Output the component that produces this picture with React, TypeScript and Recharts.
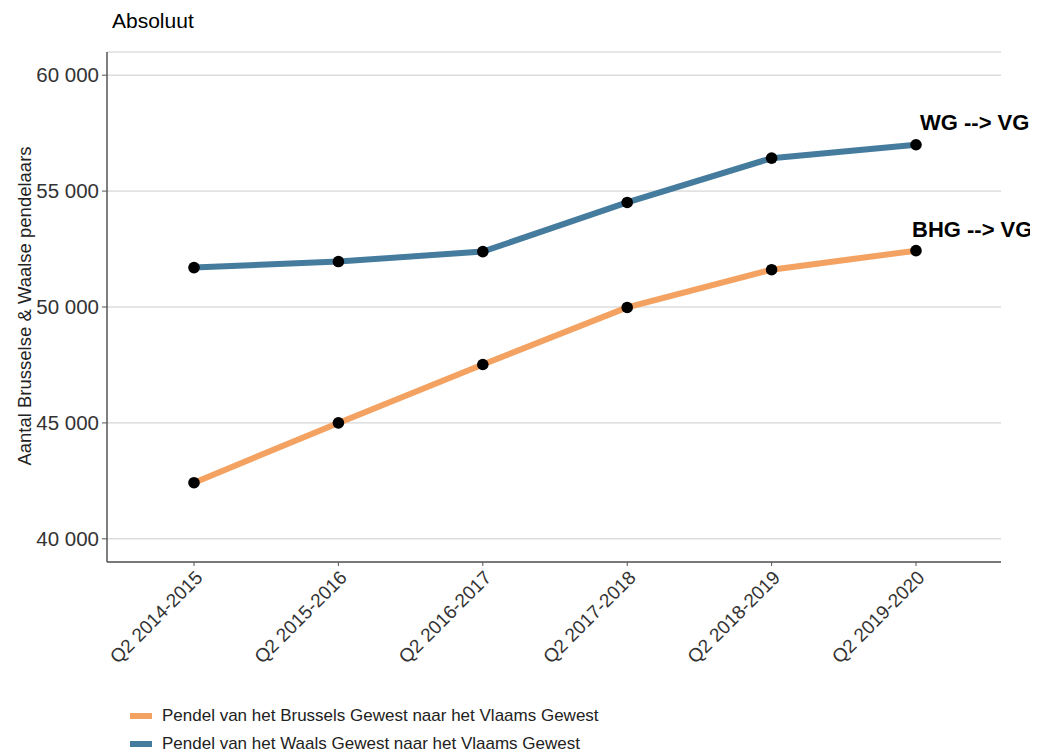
import { LineChart, Line, XAxis, YAxis, CartesianGrid, Legend, ReferenceDot } from 'recharts'

const CATEGORIES = ['Q2 2014-2015', 'Q2 2015-2016', 'Q2 2016-2017', 'Q2 2017-2018', 'Q2 2018-2019', 'Q2 2019-2020']
const BRUSSELS = [42420, 45000, 47520, 49980, 51610, 52430]
const WALLONIA = [51700, 51960, 52390, 54510, 56420, 57000]
const Y_TICKS = [40000, 45000, 50000, 55000, 60000]

const ORANGE = '#F4A261'
const BLUE = '#457B9D'
const FONT = '"Liberation Sans", Arial, sans-serif'

const SERIES = [
  { key: 'bhg', name: 'Pendel van het Brussels Gewest naar het Vlaams Gewest', color: ORANGE },
  { key: 'wg', name: 'Pendel van het Waals Gewest naar het Vlaams Gewest', color: BLUE },
]

const data = CATEGORIES.map((c, i) => ({ cat: c, bhg: BRUSSELS[i], wg: WALLONIA[i] }))
const last = CATEGORIES.length - 1

const fmt = (v: number) => String(v).replace(/\B(?=(\d{3})+(?!\d))/g, ' ')

function XTick({ x, y, payload }: any) {
  return (
    <g transform={`translate(${x},${y})`}>
      <text transform="rotate(-45)" textAnchor="end" dy="0.72em" fontSize={19} fill="#333" fontFamily={FONT}>
        {payload.value}
      </text>
    </g>
  )
}

function LegendBox() {
  return (
    <div style={{ fontFamily: FONT, fontSize: 17, color: '#222' }}>
      {SERIES.map(s => (
        <div key={s.key} style={{ display: 'flex', alignItems: 'center', height: 28 }}>
          <span style={{ display: 'inline-block', width: 22, height: 6, background: s.color, marginRight: 10 }} />
          <span>{s.name}</span>
        </div>
      ))}
    </div>
  )
}

function endLabel(text: string, dx: number, dy: number) {
  return (props: any) => {
    const vb = props.viewBox || {}
    const cx = vb.x ?? props.x
    const cy = vb.y ?? props.y
    return (
      <text x={cx + dx} y={cy + dy} fontSize={22} fontWeight="bold" fill="#000" fontFamily={FONT}>
        {text}
      </text>
    )
  }
}

export default function App() {
  return (
    <LineChart width={1030} height={745} data={data} margin={{ top: 44, right: 37, left: 9, bottom: 0 }}>
      <text x={104} y={20} fontSize={21} fill="#000" fontFamily={FONT}>Absoluut</text>
      <text transform="translate(16,298) rotate(-90)" textAnchor="middle" dominantBaseline="central"
            fontSize={18.5} fill="#222" fontFamily={FONT}>
        Aantal Brusselse &amp; Waalse pendelaars
      </text>
      <CartesianGrid vertical={false} stroke="#cccccc" strokeWidth={1} />
      <XAxis dataKey="cat" height={191} padding={{ left: 87, right: 85 }} tick={<XTick />}
             tickSize={4} tickMargin={3} interval={0}
             axisLine={{ stroke: '#555', strokeWidth: 1.5 }} tickLine={{ stroke: '#555' }} />
      <YAxis width={90} domain={[39000, 61000]} ticks={Y_TICKS} tickFormatter={fmt} interval={0}
             tickSize={5} tickMargin={3}
             tick={{ fontSize: 20.5, fill: '#333', fontFamily: FONT }}
             axisLine={{ stroke: '#555', strokeWidth: 1.5 }} tickLine={{ stroke: '#555' }} />
      <Legend layout="horizontal" verticalAlign="middle" align="center" content={<LegendBox />}
              wrapperStyle={{ top: 694, left: 122, width: 600 }} />
      {SERIES.map(s => (
        <Line key={s.key} type="linear" dataKey={s.key} name={s.name} stroke={s.color} strokeWidth={6}
              dot={{ r: 5.8, fill: '#000', stroke: '#000', strokeWidth: 0 }} activeDot={false}
              isAnimationActive={false} />
      ))}
      <ReferenceDot x={CATEGORIES[last]} y={WALLONIA[last]} r={0} stroke="none" fill="none"
                    label={endLabel('WG --> VG', 4, -15)} />
      <ReferenceDot x={CATEGORIES[last]} y={BRUSSELS[last]} r={0} stroke="none" fill="none"
                    label={endLabel('BHG --> VG', -4, -14)} />
    </LineChart>
  )
}
